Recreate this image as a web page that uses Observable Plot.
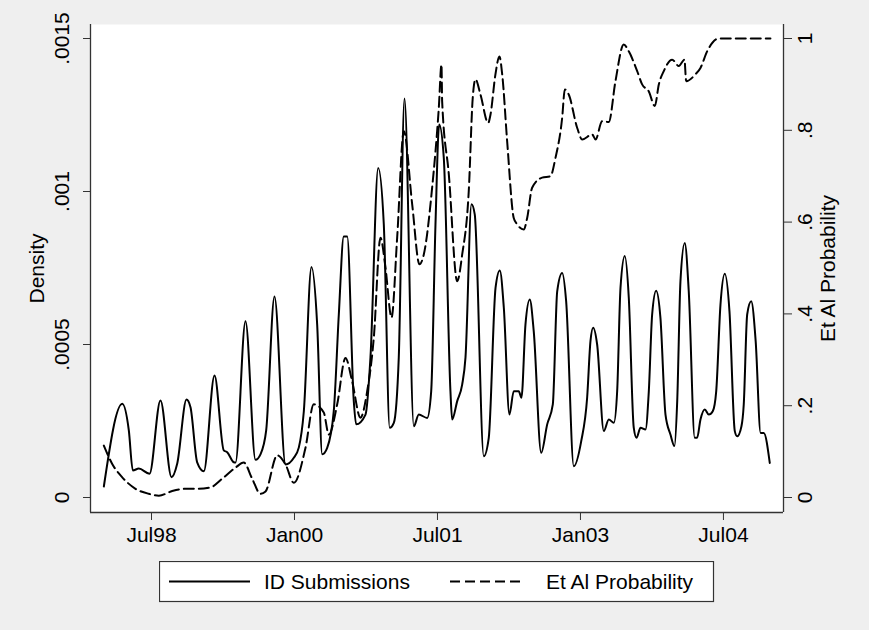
<!DOCTYPE html>
<html>
<head>
<meta charset="utf-8">
<script src="https://cdn.jsdelivr.net/npm/d3@7"></script>
<script src="https://cdn.jsdelivr.net/npm/@observablehq/plot@0.6"></script>
<style>
  html, body { margin: 0; padding: 0; background: #efefef; }
  #wrap { position: relative; width: 869px; height: 630px; background: #efefef; font-family: "Liberation Sans", Arial, Helvetica, sans-serif; }
  #legend { position: absolute; left: 159px; top: 561px; }
</style>
</head>
<body>
<div id="wrap"></div>
<script>
// ID Submissions density (decimal year, density)
const solidYears = [1998.000,1998.193,1998.262,1998.304,1998.367,1998.479,1998.594,1998.710,1998.770,1998.867,1998.909,1998.979,1999.049,1999.161,1999.258,1999.294,1999.363,1999.381,1999.486,1999.591,1999.643,1999.703,1999.790,1999.906,1999.993,2000.045,2000.098,2000.178,2000.238,2000.291,2000.343,2000.412,2000.465,2000.517,2000.553,2000.622,2000.647,2000.745,2000.797,2000.878,2000.937,2000.999,2001.042,2001.094,2001.154,2001.252,2001.304,2001.392,2001.434,2001.479,2001.518,2001.566,2001.636,2001.654,2001.707,2001.759,2001.794,2001.857,2001.891,2001.986,2002.038,2002.109,2002.154,2002.196,2002.255,2002.300,2002.353,2002.381,2002.423,2002.468,2002.510,2002.588,2002.651,2002.710,2002.756,2002.808,2002.850,2002.930,2003.008,2003.070,2003.105,2003.133,2003.175,2003.245,2003.297,2003.350,2003.385,2003.420,2003.465,2003.507,2003.559,2003.588,2003.630,2003.682,2003.717,2003.752,2003.794,2003.839,2003.892,2003.944,2003.986,2004.015,2004.049,2004.094,2004.136,2004.199,2004.224,2004.259,2004.304,2004.346,2004.388,2004.424,2004.469,2004.514,2004.563,2004.619,2004.644,2004.689,2004.713,2004.749,2004.791,2004.838,2004.890,2004.923,2004.986];
const solidDensity = [0.0000359,0.000306,0.000219,0.0000882,0.0000948,0.0000775,0.000317,0.0000663,0.000111,0.000320,0.000295,0.000115,0.0000859,0.000399,0.000154,0.000148,0.000115,0.000114,0.000576,0.000123,0.000141,0.000219,0.000657,0.000108,0.000130,0.000163,0.000282,0.000753,0.000565,0.000141,0.000162,0.000282,0.000598,0.000853,0.000853,0.000315,0.000239,0.000271,0.000458,0.001077,0.000892,0.000228,0.000244,0.000458,0.001304,0.000233,0.000271,0.000260,0.000347,0.000892,0.001219,0.001111,0.000347,0.000255,0.000315,0.000369,0.000458,0.000958,0.000925,0.000135,0.000195,0.000685,0.000742,0.000620,0.000271,0.000347,0.000347,0.000326,0.000565,0.000647,0.000543,0.000146,0.000239,0.000304,0.000674,0.000734,0.000641,0.000102,0.000184,0.000326,0.000511,0.000555,0.000500,0.000217,0.000255,0.000244,0.000347,0.000685,0.000789,0.000653,0.000228,0.000195,0.000228,0.000222,0.000347,0.000598,0.000676,0.000587,0.000271,0.000206,0.000168,0.000315,0.000707,0.000832,0.000674,0.000195,0.000195,0.000255,0.000288,0.000271,0.000282,0.000347,0.000631,0.000731,0.000609,0.000217,0.000200,0.000233,0.000304,0.000598,0.000641,0.000511,0.000211,0.000211,0.000113];

// Et Al Probability (decimal year, probability)
const dashedYears = [1998.000,1998.088,1998.193,1998.332,1998.472,1998.577,1998.717,1998.857,1998.996,1999.119,1999.242,1999.381,1999.468,1999.556,1999.643,1999.696,1999.819,1999.906,1999.993,2000.115,2000.202,2000.307,2000.360,2000.448,2000.535,2000.605,2000.692,2000.763,2000.832,2000.902,2000.955,2001.018,2001.077,2001.147,2001.235,2001.311,2001.356,2001.444,2001.514,2001.542,2001.549,2001.619,2001.707,2001.759,2001.828,2001.870,2001.899,2001.951,2002.032,2002.056,2002.108,2002.150,2002.179,2002.231,2002.300,2002.336,2002.405,2002.441,2002.493,2002.598,2002.685,2002.738,2002.808,2002.836,2002.877,2002.966,2003.018,2003.123,2003.158,2003.228,2003.297,2003.367,2003.454,2003.507,2003.595,2003.647,2003.716,2003.780,2003.822,2003.874,2003.962,2004.032,2004.091,2004.109,2004.206,2004.259,2004.329,2004.451,2004.993];
const dashedProb = [0.113,0.073,0.044,0.019,0.008,0.004,0.014,0.019,0.019,0.022,0.041,0.065,0.076,0.041,0.008,0.013,0.092,0.072,0.032,0.108,0.203,0.185,0.137,0.203,0.304,0.253,0.174,0.232,0.348,0.566,0.500,0.392,0.566,0.798,0.638,0.508,0.529,0.675,0.849,0.943,0.863,0.704,0.471,0.529,0.667,0.871,0.911,0.878,0.816,0.834,0.922,0.961,0.922,0.776,0.609,0.595,0.584,0.609,0.675,0.697,0.700,0.740,0.827,0.889,0.878,0.805,0.780,0.791,0.780,0.820,0.818,0.907,0.987,0.972,0.929,0.900,0.885,0.853,0.900,0.929,0.954,0.940,0.954,0.907,0.922,0.936,0.972,1.000,1.000];

const xTicks = [1998.5, 2000, 2001.5, 2003, 2004.5];
const xTickLabels = ["Jul98", "Jan00", "Jul01", "Jan03", "Jul04"];
const yTicks = [0, 0.0005, 0.001, 0.0015];
const yTickLabels = ["0", ".0005", ".001", ".0015"];
const probTicks = [0, 0.2, 0.4, 0.6, 0.8, 1];
const probTickLabels = ["0", ".2", ".4", ".6", ".8", "1"];
const seriesNames = ["ID Submissions", "Et Al Probability"];

const K = 0.0015; // probability 1 maps to density .0015

const solid = solidYears.map((t, i) => ({t, v: solidDensity[i]}));
const dashed = dashedYears.map((t, i) => ({t, v: dashedProb[i] * K}));

const xDomain = [1997.860, 2005.130];
const yDomain = [-0.00004902, 0.0015458];

const xLab = new Map(xTicks.map((d, i) => [d, xTickLabels[i]]));
const yLab = new Map(yTicks.map((d, i) => [d, yTickLabels[i]]));
const pLab = new Map(probTicks.map((d, i) => [d * K, probTickLabels[i]]));

const FS = 21;
const AX = "#333";

const chart = Plot.plot({
  width: 869,
  height: 552,
  marginLeft: 90,
  marginRight: 86,
  marginTop: 24,
  marginBottom: 40,
  style: {background: "#efefef", fontFamily: "'Liberation Sans', Arial, Helvetica, sans-serif", color: "#000", overflow: "visible"},
  x: {type: "linear", domain: xDomain},
  y: {domain: yDomain},
  marks: [
    Plot.frame({fill: "white", stroke: "none"}),
    Plot.line(dashed, {x: "t", y: "v", stroke: "black", strokeWidth: 2, strokeDasharray: "10,5", curve: "monotone-x"}),
    Plot.line(solid, {x: "t", y: "v", stroke: "black", strokeWidth: 2, curve: "monotone-x"}),
    Plot.ruleX([xDomain[0]], {stroke: AX, strokeWidth: 1.3}),
    Plot.ruleX([xDomain[1]], {stroke: AX, strokeWidth: 1.3}),
    Plot.ruleY([yDomain[0]], {stroke: AX, strokeWidth: 1.3}),
    Plot.axisX({ticks: xTicks, tickFormat: d => xLab.get(d), tickSize: 8, tickPadding: 7, fontSize: FS, label: null, stroke: AX}),
    Plot.axisY({anchor: "left", ticks: yTicks, tickFormat: d => yLab.get(d), tickRotate: -90, tickSize: 7, tickPadding: 15, fontSize: FS, label: null, stroke: AX}),
    Plot.axisY({anchor: "right", ticks: probTicks.map(p => p * K), tickFormat: d => pLab.get(d), tickRotate: -90, lineAnchor: "top", tickSize: 8, tickPadding: 6, fontSize: FS, label: null, stroke: AX}),
    Plot.text(["Density"], {frameAnchor: "left", dx: -61, rotate: -90, lineAnchor: "top", textAnchor: "middle", fontSize: FS}),
    Plot.text(["Et Al Probability"], {frameAnchor: "right", dx: 37, rotate: -90, lineAnchor: "top", textAnchor: "middle", fontSize: FS})
  ]
});

const wrap = document.getElementById("wrap");
wrap.appendChild(chart);

// Legend below the chart
const ns = "http://www.w3.org/2000/svg";
const leg = document.createElementNS(ns, "svg");
leg.setAttribute("id", "legend");
leg.setAttribute("width", 556);
leg.setAttribute("height", 42);
leg.innerHTML = `
  <rect x="0.5" y="0.5" width="554" height="40" fill="white" stroke="#333" stroke-width="1.2"/>
  <line x1="10" x2="91" y1="20.5" y2="20.5" stroke="black" stroke-width="2"/>
  <text x="105" y="28" font-size="${FS}" font-family="'Liberation Sans', Arial, Helvetica, sans-serif" fill="#000">${seriesNames[0]}</text>
  <line x1="291" x2="364" y1="20.5" y2="20.5" stroke="black" stroke-width="2" stroke-dasharray="10,5"/>
  <text x="387" y="28" font-size="${FS}" font-family="'Liberation Sans', Arial, Helvetica, sans-serif" fill="#000">${seriesNames[1]}</text>
`;
wrap.appendChild(leg);
</script>
</body>
</html>
